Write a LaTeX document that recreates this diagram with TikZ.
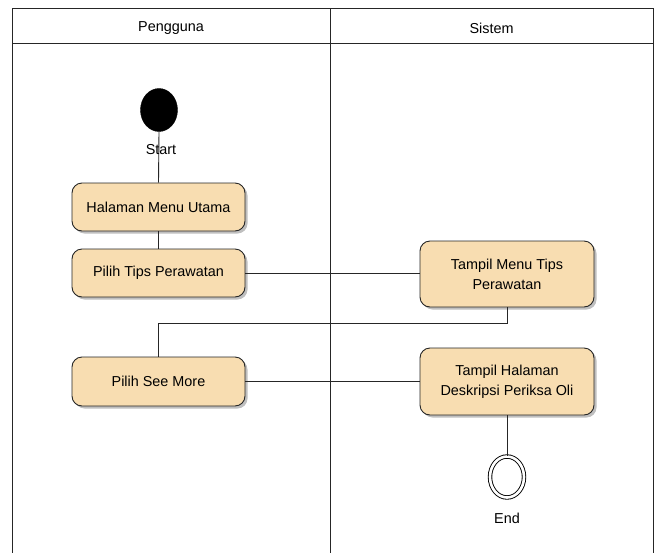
\documentclass[tikz,border=0pt]{standalone}
\usepackage{fontspec}
\setmainfont{Liberation Sans}
\usetikzlibrary{shapes.geometric,shadows}
\definecolor{boxfill}{HTML}{F8DDB1}
\tikzset{
  actbox/.style={rectangle, rounded corners=10pt, draw=black!85, line width=0.9pt,
    fill=boxfill, minimum width=173pt, align=center,
    font=\fontsize{14.4}{20}\selectfont,
    drop shadow={shadow xshift=2.5pt, shadow yshift=-2.5pt, fill=black, opacity=0.25}},
  conn/.style={draw=black!85, line width=0.9pt},
  lbl/.style={font=\fontsize{14.4}{17}\selectfont, inner sep=0pt},
  frame/.style={draw=black!85, line width=0.9pt}
}
\begin{document}
\begin{tikzpicture}[x=1pt,y=-1pt]
\useasboundingbox (0,0) rectangle (656,552);
\clip (0,0) rectangle (656,552);
\fill[white] (0,0) rectangle (656,552);
% swimlane frame
\draw[frame] (12,560) -- (12,8) -- (653,8) -- (653,560);
\draw[frame] (12,43) -- (653,43);
\draw[frame] (330,8) -- (330,560);
\node[lbl] (h1) at (171,28.5) {Pengguna};
\node[lbl] (h2) at (491.5,28.5) {Sistem};
% nodes
\node[ellipse, fill=black, draw=black, minimum width=37pt, minimum height=43pt, inner sep=0pt] (start) at (159,110) {};
\node[actbox, minimum height=48pt] (hal) at (158.5,207) {Halaman Menu Utama};
\node[actbox, minimum height=48pt] (tips) at (158.5,273) {Pilih Tips Perawatan};
\node[actbox, minimum width=174pt, minimum height=66pt] (tmenu) at (507,274) {Tampil Menu Tips\\Perawatan};
\node[actbox, minimum height=49pt] (more) at (158.5,381.5) {Pilih See More};
\node[actbox, minimum width=174pt, minimum height=67pt] (thal) at (507,381.5) {Tampil Halaman\\Deskripsi Periksa Oli};
\node[ellipse, draw=black, fill=white, double=white, double distance=2.6pt, line width=0.9pt, minimum width=34pt, minimum height=41pt, inner sep=0pt] (end) at (507,477) {};
% connectors
\draw[conn] (start.south) -- (hal.north);
\draw[conn] (hal.south) -- (tips.north);
\draw[conn] (tips.east) -- (tmenu.west |- tips.east);
\coordinate (bend1) at (507,323);
\draw[conn] (tmenu.south) -- (bend1) -- (bend1 -| more.north) -- (more.north);
\draw[conn] (more.east) -- (thal.west |- more.east);
\draw[conn] (thal.south) -- (end.north);
% labels
\node[lbl] (startlbl) at (161,150) {Start};
\node[lbl] (endlbl) at (507,518) {End};
\end{tikzpicture}
\end{document}
